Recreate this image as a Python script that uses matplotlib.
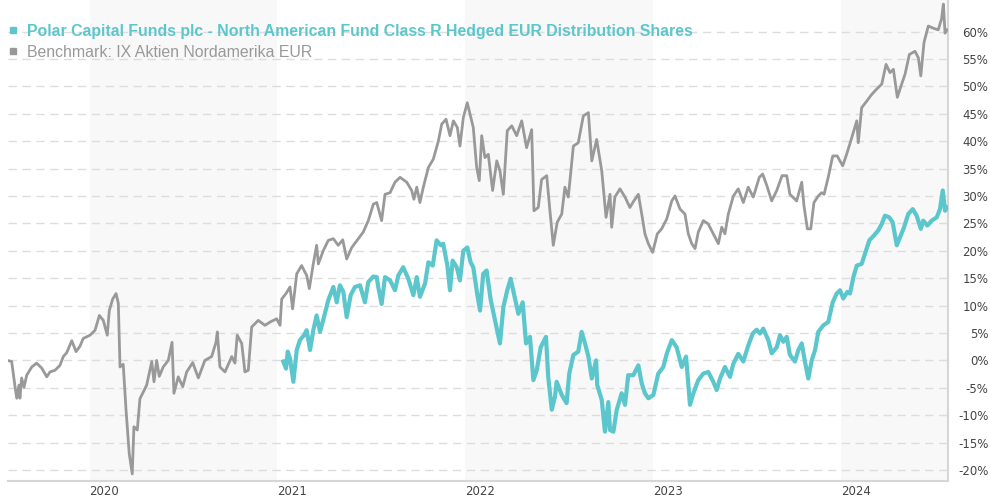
import matplotlib
matplotlib.use("Agg")
import matplotlib.pyplot as plt
from matplotlib.lines import Line2D
import numpy as np

# ---- data (decimal year, % performance) ----
bench_t = [2019.562, 2019.585, 2019.603, 2019.612, 2019.624, 2019.629, 2019.638, 2019.651, 2019.665, 2019.692,
           2019.718, 2019.745, 2019.772, 2019.789, 2019.816, 2019.842, 2019.860, 2019.878, 2019.905, 2019.928,
           2019.949, 2019.966, 2020.002, 2020.029, 2020.052, 2020.073, 2020.094, 2020.105, 2020.123, 2020.141,
           2020.153, 2020.162, 2020.179, 2020.194, 2020.211, 2020.227, 2020.236, 2020.254, 2020.268, 2020.304,
           2020.331, 2020.343, 2020.357, 2020.371, 2020.392, 2020.419, 2020.439, 2020.449, 2020.472, 2020.496,
           2020.517, 2020.549, 2020.579, 2020.614, 2020.650, 2020.673, 2020.680, 2020.694, 2020.721, 2020.757,
           2020.774, 2020.786, 2020.810, 2020.827, 2020.845, 2020.863, 2020.898, 2020.934, 2020.961, 2020.996,
           2021.014, 2021.023, 2021.046, 2021.067, 2021.081, 2021.103, 2021.129, 2021.156, 2021.170, 2021.191,
           2021.209, 2021.218, 2021.244, 2021.271, 2021.298, 2021.324, 2021.348, 2021.369, 2021.396, 2021.431,
           2021.457, 2021.484, 2021.511, 2021.529, 2021.555, 2021.573, 2021.600, 2021.626, 2021.653, 2021.689,
           2021.715, 2021.727, 2021.742, 2021.759, 2021.777, 2021.804, 2021.830, 2021.857, 2021.875, 2021.898,
           2021.919, 2021.937, 2021.958, 2021.972, 2021.990, 2022.011, 2022.026, 2022.043, 2022.061, 2022.075,
           2022.088, 2022.105, 2022.123, 2022.146, 2022.168, 2022.185, 2022.203, 2022.224, 2022.248, 2022.274,
           2022.301, 2022.327, 2022.354, 2022.366, 2022.389, 2022.407, 2022.434, 2022.452, 2022.469, 2022.490,
           2022.514, 2022.531, 2022.549, 2022.576, 2022.602, 2022.629, 2022.656, 2022.674, 2022.700, 2022.727,
           2022.750, 2022.771, 2022.780, 2022.797, 2022.824, 2022.851, 2022.877, 2022.898, 2022.922, 2022.940,
           2022.957, 2022.975, 2022.998, 2023.023, 2023.046, 2023.073, 2023.100, 2023.117, 2023.144, 2023.170,
           2023.188, 2023.206, 2023.224, 2023.241, 2023.268, 2023.294, 2023.321, 2023.348, 2023.366, 2023.383,
           2023.401, 2023.428, 2023.454, 2023.481, 2023.507, 2023.534, 2023.566, 2023.584, 2023.606, 2023.632,
           2023.659, 2023.687, 2023.712, 2023.729, 2023.765, 2023.792, 2023.804, 2023.822, 2023.840, 2023.857,
           2023.880, 2023.898, 2023.911, 2023.933, 2023.957, 2023.981, 2024.010, 2024.031, 2024.058, 2024.085,
           2024.093, 2024.111, 2024.138, 2024.164, 2024.191, 2024.218, 2024.241, 2024.262, 2024.280, 2024.301,
           2024.324, 2024.342, 2024.365, 2024.395, 2024.413, 2024.426, 2024.443, 2024.466, 2024.493, 2024.519,
           2024.537, 2024.546, 2024.555, 2024.566]
bench_v = [0.0, -0.2, -4.8, -6.9, -4.5, -6.9, -3.2, -4.9, -2.7, -1.2,
           -0.5, -1.4, -3.0, -2.1, -1.8, -0.9, 0.7, 1.4, 3.6, 1.6,
           2.6, 4.0, 4.6, 5.5, 8.2, 7.3, 4.6, 9.1, 11.2, 12.2,
           10.4, -1.2, -0.7, -9.0, -17.0, -20.7, -12.1, -12.7, -7.0, -4.5,
           -0.2, -3.9, 0.0, -2.9, -1.2, 0.0, 3.3, -6.0, -3.0, -4.8,
           -2.1, -0.4, -3.2, 0.0, 0.7, 3.3, 5.2, -1.2, -2.1, 0.7,
           -0.5, 4.6, 3.1, -2.1, -1.8, 6.1, 7.3, 6.4, 7.0, 7.6,
           6.4, 11.2, 12.2, 13.4, 9.4, 15.8, 17.3, 15.5, 13.1, 17.6,
           21.0, 17.6, 20.0, 21.9, 22.2, 21.0, 22.0, 18.5, 20.6, 22.2,
           23.4, 25.5, 28.5, 28.8, 25.5, 30.3, 30.6, 32.5, 33.4, 32.5,
           31.0, 29.4, 31.6, 28.8, 31.6, 35.2, 36.7, 40.0, 43.1, 44.0,
           41.0, 43.7, 42.5, 39.1, 44.3, 47.0, 44.9, 42.5, 35.2, 32.8,
           41.0, 37.0, 37.6, 31.0, 36.4, 34.6, 30.3, 41.9, 42.8, 41.0,
           43.7, 38.8, 42.1, 27.3, 27.9, 33.0, 33.7, 27.0, 21.0, 25.2,
           26.7, 31.6, 29.8, 39.1, 39.7, 44.6, 45.2, 36.4, 40.3, 34.6,
           26.1, 30.3, 24.3, 29.8, 31.3, 29.8, 27.9, 29.1, 30.3, 26.7,
           23.1, 21.3, 19.7, 23.1, 24.0, 25.8, 29.1, 30.0, 27.6, 26.7,
           23.1, 21.3, 20.4, 23.4, 25.5, 24.9, 23.1, 21.3, 24.3, 23.1,
           26.7, 30.0, 31.3, 28.8, 31.6, 29.8, 33.4, 34.0, 31.9, 29.1,
           31.0, 33.7, 33.7, 30.3, 29.1, 32.5, 28.2, 24.0, 24.0, 28.8,
           30.0, 30.6, 30.3, 33.4, 37.3, 37.3, 35.5, 37.6, 40.6, 43.7,
           39.7, 46.1, 47.3, 48.5, 49.5, 50.4, 54.0, 52.5, 53.1, 48.0,
           50.4, 52.2, 55.8, 56.4, 55.2, 51.9, 58.0, 61.0, 60.6, 60.3,
           62.4, 65.0, 59.7, 60.3]

fund_t = [2021.031, 2021.046, 2021.055, 2021.067, 2021.085, 2021.103, 2021.120, 2021.142, 2021.156, 2021.174,
          2021.191, 2021.209, 2021.227, 2021.248, 2021.271, 2021.298, 2021.316, 2021.333, 2021.351, 2021.369,
          2021.390, 2021.413, 2021.440, 2021.466, 2021.484, 2021.511, 2021.529, 2021.537, 2021.555, 2021.573,
          2021.600, 2021.626, 2021.644, 2021.670, 2021.697, 2021.724, 2021.742, 2021.759, 2021.786, 2021.804,
          2021.827, 2021.848, 2021.870, 2021.883, 2021.905, 2021.919, 2021.933, 2021.955, 2021.972, 2021.990,
          2022.011, 2022.029, 2022.043, 2022.064, 2022.079, 2022.096, 2022.114, 2022.136, 2022.159, 2022.185,
          2022.203, 2022.224, 2022.242, 2022.260, 2022.283, 2022.306, 2022.324, 2022.345, 2022.363, 2022.381,
          2022.402, 2022.430, 2022.442, 2022.461, 2022.478, 2022.487, 2022.514, 2022.540, 2022.554, 2022.576,
          2022.602, 2022.620, 2022.638, 2022.656, 2022.674, 2022.697, 2022.703, 2022.727, 2022.744, 2022.762,
          2022.771, 2022.789, 2022.807, 2022.833, 2022.851, 2022.868, 2022.895, 2022.922, 2022.940, 2022.957,
          2022.975, 2023.002, 2023.028, 2023.055, 2023.073, 2023.100, 2023.126, 2023.153, 2023.176, 2023.197,
          2023.215, 2023.241, 2023.268, 2023.294, 2023.321, 2023.339, 2023.357, 2023.383, 2023.410, 2023.428,
          2023.454, 2023.481, 2023.507, 2023.531, 2023.552, 2023.570, 2023.587, 2023.614, 2023.632, 2023.659,
          2023.676, 2023.694, 2023.712, 2023.729, 2023.756, 2023.774, 2023.792, 2023.809, 2023.827, 2023.845,
          2023.863, 2023.880, 2023.907, 2023.933, 2023.957, 2023.978, 2023.996, 2024.013, 2024.035, 2024.049,
          2024.067, 2024.085, 2024.111, 2024.129, 2024.152, 2024.177, 2024.199, 2024.218, 2024.235, 2024.258,
          2024.276, 2024.298, 2024.319, 2024.337, 2024.359, 2024.383, 2024.404, 2024.426, 2024.439, 2024.461,
          2024.484, 2024.511, 2024.528, 2024.543, 2024.555, 2024.566]
fund_v = [-0.2, -1.5, 1.6, 0.4, -3.9, 1.9, 3.7, 4.6, 5.5, 1.9,
          5.5, 8.2, 5.2, 7.9, 11.0, 13.4, 10.6, 13.7, 12.5, 7.9,
          11.9, 13.4, 13.7, 10.6, 14.3, 15.3, 15.2, 13.4, 10.3, 15.2,
          14.6, 12.8, 15.5, 17.0, 14.9, 11.9, 15.2, 11.6, 14.0, 17.9,
          17.3, 21.9, 21.0, 21.3, 17.3, 12.8, 18.2, 17.0, 14.6, 20.0,
          20.6, 17.9, 17.0, 12.1, 9.1, 15.8, 16.4, 11.0, 7.3, 3.1,
          9.7, 12.8, 14.9, 12.1, 8.5, 10.6, 3.1, 4.3, -3.6, -1.8,
          2.4, 4.3, -3.0, -9.0, -6.6, -3.9, -6.3, -7.8, -2.4, 1.0,
          1.6, 5.2, 3.1, 0.7, -3.3, 0.0, -4.5, -7.2, -13.0, -7.6,
          -12.7, -13.0, -9.0, -6.0, -8.1, -2.7, -2.7, -0.9, -4.2, -6.0,
          -6.9, -6.3, -2.4, -1.2, 1.2, 3.7, 2.4, -1.2, 0.7, -8.1,
          -6.0, -3.6, -2.4, -2.1, -3.9, -5.4, -3.3, -1.2, -3.0, -0.6,
          1.2, -0.2, 2.7, 4.9, 5.6, 4.9, 5.8, 3.7, 1.3, 2.4,
          4.6, 3.4, 4.3, 1.0, -0.2, 1.9, 3.1, -0.2, -3.3, 0.0,
          1.9, 5.2, 6.4, 7.0, 10.6, 12.2, 12.8, 11.3, 12.5, 12.2,
          15.2, 17.3, 17.6, 19.5, 21.9, 22.8, 23.7, 24.9, 26.4, 26.1,
          25.2, 21.0, 22.8, 24.3, 26.7, 27.6, 26.4, 24.0, 25.5, 24.6,
          25.5, 26.1, 27.6, 31.0, 27.3, 27.9]

years = [2020, 2021, 2022, 2023, 2024]
shaded_years = [2020, 2022, 2024]
yticks = list(range(-20, 65, 5))
fund_name = "Polar Capital Funds plc - North American Fund Class R Hedged EUR Distribution Shares"
bench_name = "Benchmark: IX Aktien Nordamerika EUR"

# ---- style ----
FUND_C = "#5bc7cd"
BENCH_C = "#999999"

fig = plt.figure(figsize=(9.9, 5.0), dpi=100)
ax = fig.add_axes([7.6 / 990, 19 / 500, (948 - 7.6) / 990, 481 / 500])
ax.set_xlim(2019.5634, 2024.5708)
ax.set_ylim(-22.0, 65.75)

for y0 in shaded_years:
    ax.axvspan(y0, y0 + 1, color="#f8f8f8", zorder=0, lw=0)

for v in yticks:
    ax.axhline(v, color="#dddddd", lw=1.0, ls=(0, (6, 4)), zorder=1)

ax.plot(bench_t, bench_v, color=BENCH_C, lw=2.0, zorder=3, solid_joinstyle="round")
ax.plot(fund_t, fund_v, color=FUND_C, lw=3.0, zorder=4, solid_joinstyle="round")

for s in ["left", "top"]:
    ax.spines[s].set_visible(False)
for s in ["right", "bottom"]:
    ax.spines[s].set_color("#d6d6d6")
    ax.spines[s].set_linewidth(1.5)

ax.yaxis.tick_right()
ax.set_yticks(yticks)
ax.set_yticklabels([f"{v}%" for v in yticks], fontsize=8.5, color="#444444", family="DejaVu Sans")
for lab in ax.get_yticklabels():
    lab.set_horizontalalignment("right")
ax.tick_params(axis="y", length=0, pad=29)

ax.set_xticks(years)
ax.set_xticklabels([str(y) for y in years], fontsize=8.5, color="#444444", family="DejaVu Sans")
for lab in ax.get_xticklabels():
    lab.set_horizontalalignment("left")
ax.tick_params(axis="x", length=0, pad=3)

handles = [Line2D([], [], ls="none", marker="s", ms=4.8, color=FUND_C),
           Line2D([], [], ls="none", marker="s", ms=4.8, color=BENCH_C)]
leg = ax.legend(handles, [fund_name, bench_name], loc="upper left",
                bbox_to_anchor=(7 / 990, 1 - 24 / 500), bbox_transform=fig.transFigure,
                frameon=False, handlelength=0.8, handletextpad=0.45, labelspacing=0.35,
                borderaxespad=0, borderpad=0, prop={"family": "Liberation Sans", "size": 11.4})
texts = leg.get_texts()
texts[0].set_color(FUND_C)
texts[0].set_fontweight("bold")
texts[1].set_color(BENCH_C)

fig.savefig("out.png", dpi=100)
